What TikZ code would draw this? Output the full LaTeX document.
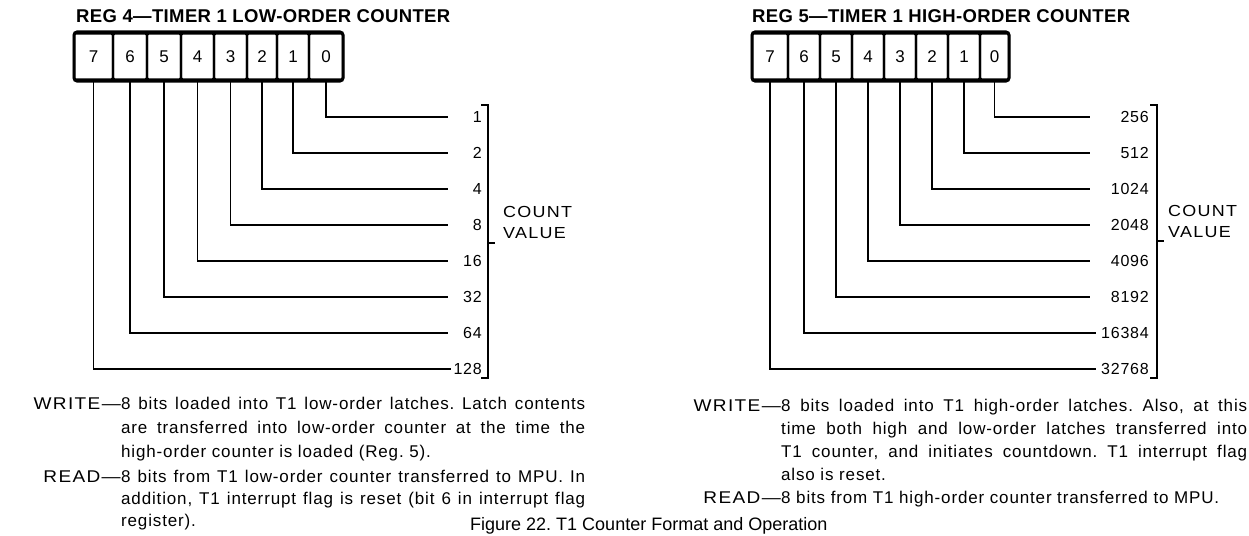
\documentclass[tikz,border=0pt]{standalone}
\usepackage{fontspec}
\setmainfont{Liberation Sans}
\newfontfamily\bodyf[LetterSpace=5]{Liberation Sans}
\newfontfamily\capsf[LetterSpace=8,FakeStretch=1.12]{Liberation Sans}
\newfontfamily\titlef[LetterSpace=2]{Liberation Sans}
\newcommand\jline[2]{\hbox to #1pt{\frenchspacing\spaceskip=.278em plus 1fil minus .1em\relax #2}}
\begin{document}
\frenchspacing
\begin{tikzpicture}[x=1pt,y=-1pt,
  cell/.style={draw, line width=2.2pt, rounded corners=2pt, inner sep=0pt, outer sep=0pt, minimum height=46pt, font=\bodyf\fontsize{17}{17}\selectfont},
  regframe/.style={draw, line width=3pt, rounded corners=3pt},
  wire/.style={line width=1.8pt},
  val/.style={anchor=base east, inner sep=0pt, font=\bodyf\fontsize{16}{16}\selectfont},
  brk/.style={line width=1.8pt},
  txt/.style={anchor=base west, inner sep=0pt, font=\bodyf\fontsize{17}{17}\selectfont},
  lbl/.style={anchor=base east, inner sep=0pt, font=\capsf\fontsize{17}{17}\selectfont},
  ttl/.style={anchor=base west, inner sep=0pt, font=\titlef\bfseries\fontsize{18.5}{18.5}\selectfont},
  cv/.style={anchor=base west, inner sep=0pt, align=left, font=\capsf\fontsize{16}{21}\selectfont}]
\useasboundingbox (0,0) rectangle (1249,535);
\clip (0,0) rectangle (1249,535);

% ---------- left register ----------
\node[ttl] (t4) at (76,22.5) {REG 4—TIMER 1 LOW-ORDER COUNTER};
\draw[regframe] (74,32) rectangle (343,81);
\foreach \b/\cx/\w in {7/93.5/39,6/130/34,5/164/34,4/197.5/33,3/230.5/33,2/262/30,1/293/32,0/326/34}
  \node[cell, minimum width=\w pt] (L\b) at (\cx,56.5) {\b};
\foreach \b/\y/\v/\ex in {0/117/1/448,1/153/2/448,2/189/4/448,3/225/8/448,4/261/16/448,5/297/32/448,6/333/64/448,7/369/128/451}{
  \coordinate (le\b) at (\ex,\y);
  \node[val] (lv\b) at (482,\y+5.5) {\v};
  \draw[wire] (L\b.south) |- (le\b);
}
\draw[brk] (481,105) -- (488,105) -- (488,378) -- (481,378);
\draw[brk] (488,243) -- (495,243);
\node[cv] (lcv) at (503,238) {COUNT\\VALUE};

% ---------- right register ----------
\node[ttl] (t5) at (752,22.5) {REG 5—TIMER 1 HIGH-ORDER COUNTER};
\draw[regframe] (752,32) rectangle (1009,81);
\foreach \b/\cx/\w in {7/770/36,6/804/32,5/836/32,4/868/32,3/900/32,2/932/32,1/964/32,0/994.5/29}
  \node[cell, minimum width=\w pt] (R\b) at (\cx,56.5) {\b};
\foreach \b/\y/\v/\ex in {0/117/256/1090,1/153/512/1090,2/189/1024/1090,3/225/2048/1090,4/261/4096/1090,5/297/8192/1090,6/333/16384/1096,7/369/32768/1096}{
  \coordinate (re\b) at (\ex,\y);
  \node[val] (rv\b) at (1149,\y+5.5) {\v};
  \draw[wire] (R\b.south) |- (re\b);
}
\draw[brk] (1150,105) -- (1157,105) -- (1157,378) -- (1150,378);
\draw[brk] (1157,241) -- (1164,241);
\node[cv] (rcv) at (1168,237) {COUNT\\VALUE};

% ---------- left description ----------
\node[lbl] (lw) at (121,409) {WRITE—};
\node[txt] (lw1) at (121,409) {\jline{464}{8 bits loaded into T1 low-order latches. Latch contents}};
\node[txt] (lw2) at (121,433) {\jline{464}{are transferred into low-order counter at the time the}};
\node[txt] (lw3) at (121,457) {high-order counter is loaded (Reg. 5).};
\node[lbl] (lr) at (121,482) {READ—};
\node[txt] (lr1) at (121,482) {\jline{464}{8 bits from T1 low-order counter transferred to MPU. In}};
\node[txt] (lr2) at (121,504) {\jline{464}{addition, T1 interrupt flag is reset (bit 6 in interrupt flag}};
\node[txt] (lr3) at (121,526) {register).};

% ---------- right description ----------
\node[lbl] (rw) at (781,411) {WRITE—};
\node[txt] (rw1) at (781,411) {\jline{466}{8 bits loaded into T1 high-order latches. Also, at this}};
\node[txt] (rw2) at (781,434) {\jline{466}{time both high and low-order latches transferred into}};
\node[txt] (rw3) at (781,457) {\jline{466}{T1 counter, and initiates countdown. T1 interrupt flag}};
\node[txt] (rw4) at (781,480) {also is reset.};
\node[lbl] (rr) at (781,503) {READ—};
\node[txt] (rr1) at (781,503) {8 bits from T1 high-order counter transferred to MPU.};

% ---------- caption ----------
\node[anchor=base west, inner sep=0pt, font=\fontsize{18}{18}\selectfont] (cap) at (470,530) {Figure 22. T1 Counter Format and Operation};
\end{tikzpicture}
\end{document}
